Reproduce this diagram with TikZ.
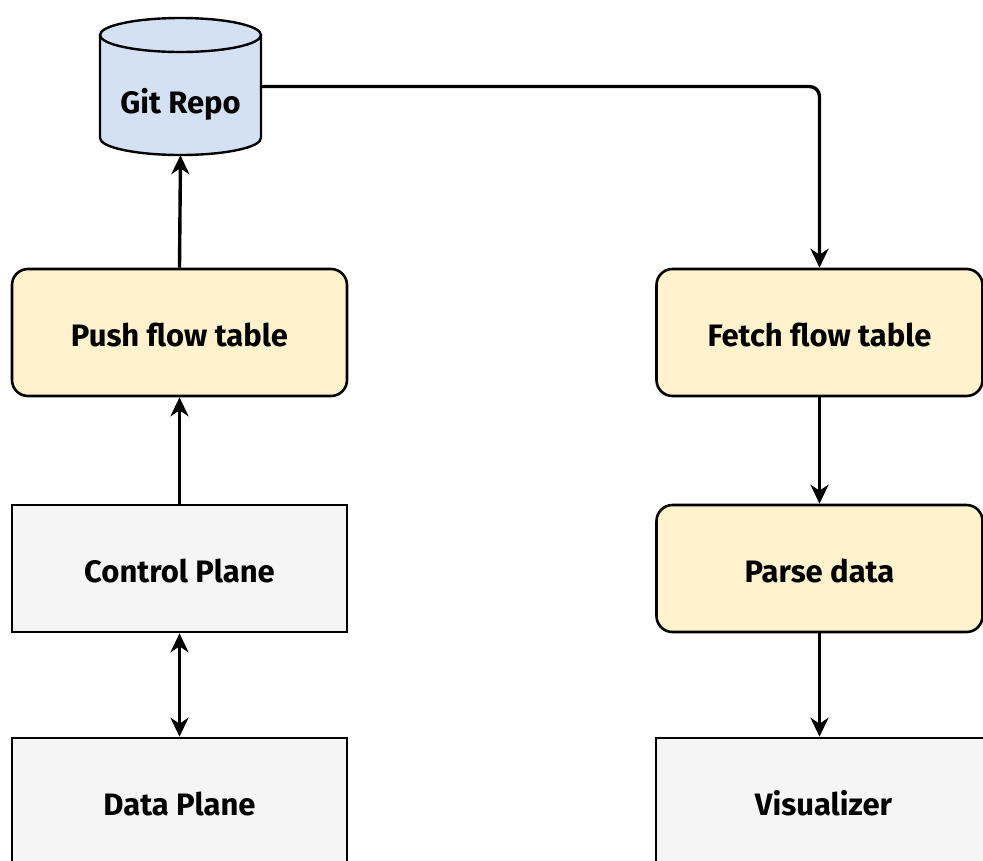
\documentclass[tikz,border=0pt]{standalone}
\usepackage{fontspec}
\setmainfont{Fira Sans}
\usetikzlibrary{arrows.meta}
\definecolor{notefill}{HTML}{FFF2CC}
\definecolor{greyfill}{HTML}{F5F5F5}
\definecolor{repofill}{HTML}{D4E1F5}
\tikzset{
  labelfont/.style={font=\bfseries\fontsize{31}{36}\selectfont},
  box/.style={draw=black, line width=2.6pt, minimum height=127pt,
    inner sep=0pt, labelfont, text height=27pt, text depth=0pt},
  stepbox/.style={box, fill=notefill, rounded corners=16pt},
  plainbox/.style={box, fill=greyfill},
  flow/.style={line width=3.4pt, -{Stealth[length=19pt, width=18pt, inset=6pt]}},
  both/.style={line width=3.4pt, {Stealth[length=19pt, width=18pt, inset=6pt]}-{Stealth[length=19pt, width=18pt, inset=6pt]}},
}
\begin{document}
\begin{tikzpicture}[x=1pt, y=-1pt]
\useasboundingbox (0,0) rectangle (983,860);
\clip (0,0) rectangle (983,860);

% repository cylinder
\node[minimum width=161pt, minimum height=137pt, inner sep=0pt] (git) at (180.5,86.5) {};
\fill[repofill] (100,35) -- (100,138) arc[start angle=180, end angle=360, x radius=80.5pt, y radius=17pt]
  -- (261,35) arc[start angle=0, end angle=180, x radius=80.5pt, y radius=17pt] -- cycle;
\draw[line width=2.4pt] (100,35) -- (100,138) arc[start angle=180, end angle=360, x radius=80.5pt, y radius=17pt] -- (261,35);
\draw[line width=2.4pt] (180.5,35) ellipse[x radius=80.5pt, y radius=17pt];
\node[labelfont] (gitlabel) at (180.5,104) {Git Repo};

% left column
\node[stepbox, minimum width=335pt] (push) at (179.5,332.5) {Push flow table};
\node[plainbox, minimum width=335pt] (ctrl) at (179.5,568.5) {Control Plane};
\node[plainbox, minimum width=335pt] (data) at (179.5,801.5) {Data Plane};

% right column
\node[stepbox, minimum width=326pt] (fetch) at (819.5,332.5) {Fetch flow table};
\node[stepbox, minimum width=326pt] (parse) at (819.5,568.5) {Parse data};
\node[plainbox, minimum width=335pt] (vis) at (823.5,801.5) {Visualizer};

% connectors
\draw[flow] (push.north) -- (git.south);
\draw[flow] (ctrl.north) -- (push.south);
\draw[both] (ctrl.south) -- (data.north);
\draw[flow, rounded corners=10pt] (git.east) -| (fetch.north);
\draw[flow] (fetch.south) -- (parse.north);
\draw[flow] (parse.south) -- (parse.south |- vis.north);
\end{tikzpicture}
\end{document}
